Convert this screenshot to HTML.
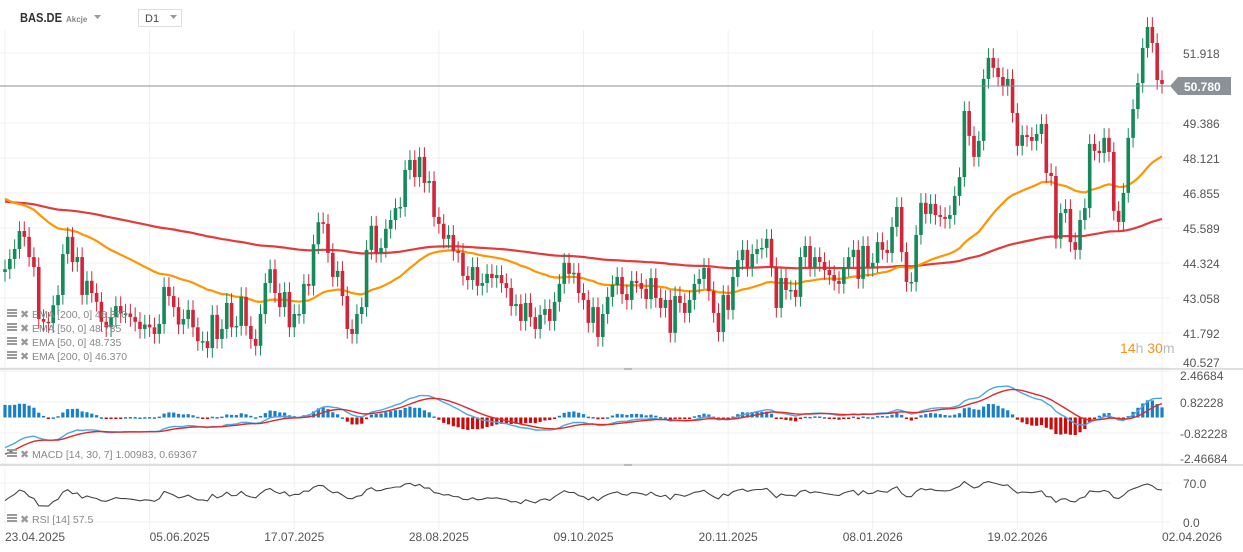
<!DOCTYPE html>
<html><head><meta charset="utf-8">
<style>
html,body{margin:0;padding:0;background:#fff;}
svg{display:block;font-family:"Liberation Sans",Arial,sans-serif;}
</style></head>
<body>
<svg id="chart" width="1243" height="552" viewBox="0 0 1243 552" xmlns="http://www.w3.org/2000/svg">
<rect x="0" y="0" width="1243" height="552" fill="#fff"/>
<g id="grid"></g>
<g id="ema"></g>
<g id="candles"></g>
<g id="macd"></g>
<g id="rsi"></g>
<g id="axes"></g>

<!-- header -->
<text x="20" y="22" font-size="13" font-weight="bold" fill="#333" textLength="42" lengthAdjust="spacingAndGlyphs">BAS.DE</text>
<text x="66" y="22" font-size="8" font-weight="bold" fill="#888">Akcje</text>
<path d="M94 15 L101 15 L97.5 19 Z" fill="#999"/>
<rect x="138.5" y="9.5" width="43" height="17" fill="#fff" stroke="#ddd"/>
<text x="145" y="22" font-size="11" fill="#444">D1</text>
<path d="M170 15 L177 15 L173.5 19 Z" fill="#999"/>

<!-- price marker -->
<line x1="0" y1="86" x2="1170" y2="86" stroke="#8a8f93" stroke-width="1"/>
<path d="M1170 86 L1178 77 L1231 77 L1231 95 L1178 95 Z" fill="#8a9297"/>
<text x="1184" y="91" font-size="12" font-weight="bold" fill="#fff">50.780</text>

<text x="1120" y="353" font-size="14"><tspan fill="#f7931a">14</tspan><tspan fill="#bbb">h </tspan><tspan fill="#f7931a">30</tspan><tspan fill="#bbb">m</tspan></text>

<!-- legends -->
<g id="legends" font-size="10.5" fill="#888"></g>
</svg>
<script>
// ---- data ----
const closes = [
44.1,44.47,44.83,45.48,45.27,44.54,44.18,42.3,42.2,42.15,42.8,43.17,44.65,45.27,44.36,44.54,43.17,43.68,43.24,42.92,42.2,42.0,42.37,42.77,42.5,42.5,42.37,42.2,41.94,42.1,42.0,41.76,42.12,43.46,43.13,42.73,42.1,42.3,42.63,42.0,41.5,41.5,41.25,42.45,41.58,41.94,42.88,42.0,42.05,43.1,42.05,41.58,41.33,42.48,43.6,44.1,43.24,42.73,43.28,42.0,42.48,42.48,
43.57,43.5,45.0,45.8,45.74,44.69,43.82,44.04,43.13,41.94,41.76,42.48,42.73,44.8,45.67,44.69,44.87,45.56,45.88,46.31,46.35,47.69,48.05,47.43,48.16,47.22,47.29,45.99,45.74,45.2,45.34,44.76,44.69,43.86,43.71,44.18,43.5,43.6,43.93,43.78,43.89,43.6,43.42,42.77,42.84,42.23,42.88,42.37,41.94,42.45,42.66,42.23,42.92,43.57,44.33,43.93,43.97,43.24,42.99,42.16,
42.73,41.65,42.48,43.1,43.53,43.82,43.2,42.99,43.68,43.6,43.39,43.02,43.78,43.06,42.7,42.99,41.8,43.13,42.88,42.52,42.99,43.57,43.75,44.15,43.31,42.52,41.83,43.17,42.63,43.82,44.43,44.8,44.18,44.65,44.83,44.87,45.2,44.18,42.7,43.78,43.35,43.35,43.1,44.54,44.94,44.18,44.54,44.36,44.07,43.89,43.68,43.57,44.18,44.54,44.8,43.75,44.94,44.18,44.33,45.08,
44.8,44.69,45.63,46.35,44.72,43.64,43.64,45.34,46.5,46.1,46.46,46.06,45.99,45.92,46.06,46.75,47.43,49.82,48.92,48.16,48.74,50.98,51.74,51.38,51.05,50.72,50.98,49.75,48.56,48.95,48.88,48.74,48.99,49.35,47.58,47.47,45.2,46.13,46.28,45.08,44.8,45.88,46.31,48.63,48.38,48.3,48.85,48.34,46.21,45.81,46.86,48.85,49.89,50.83,52.1,52.86,52.28,50.94,50.8
];
const firstOpen = [44.0];
const emaSeeds = [46.55, 46.65];        // EMA200, EMA50 values at first bar
const macdSeeds = [44.4, 46.0, -1.95]; // fast EMA, slow EMA, signal at first bar
const rsiSeeds = [0.1, 0.16];          // avg gain, avg loss
const priceTicks = [51.918, 49.386, 48.121, 46.855, 45.589, 44.324, 43.058, 41.792, 40.527];
const macdTicks = [2.46684, 0.82228, -0.82228, -2.46684];
const rsiTicks = [70.0, 0.0];
const dateLabels = ["23.04.2025","05.06.2025","17.07.2025","28.08.2025","09.10.2025","20.11.2025","08.01.2026","19.02.2026","02.04.2026"];
const dateIndex = [0,30,60,90,120,150,180,210,240];

// ---- scales ----
const N = closes.length;
const x0 = 5, x1 = 1162;
const step = (x1 - x0) / (N - 1);
const X = i => x0 + i * step;
const Yp = p => 158 + (48.121 - p) * 27.66;
const Ym = v => 417.5 - v * 18.8;
const Yh = v => 417.5 - v * 36;
const Yr = v => 522 - v * 39 / 70;
const NS = "http://www.w3.org/2000/svg";
function mk(tag, attrs, parent) {
  const e = document.createElementNS(NS, tag);
  for (const k in attrs) e.setAttribute(k, attrs[k]);
  parent.appendChild(e); return e;
}
const gGrid = document.getElementById('grid');
const gC = document.getElementById('candles');
const gE = document.getElementById('ema');
const gM = document.getElementById('macd');
const gR = document.getElementById('rsi');
const gA = document.getElementById('axes');
const gL = document.getElementById('legends');

// grid
priceTicks.forEach((t, k) => {
  const l = mk('line', {x1:0, x2:1170, y1:Yp(t), y2:Yp(t), stroke:'#f0f0f0'}, gGrid);
  
  
  let yy = Yp(t) + 5;
  if (k === priceTicks.length - 1) yy = Yp(t) - 1;
  const tx = mk('text', {x:1183, y:yy, 'font-size':12, fill:'#555'}, gA);
  
  
  tx.textContent = t.toFixed(3);
});
dateIndex.forEach((di, k) => {
  const x = X(di);
  const l = mk('line', {x1:x, x2:x, y1:30, y2:530, stroke:'#f0f0f0'}, gGrid);
  
  
  let anchor = 'middle';
  if (k === 0 || k === 1 || k === dateLabels.length - 1) anchor = 'start';
  const tx = mk('text', {x:x, y:541, 'font-size':12, fill:'#555', 'text-anchor':anchor}, gA);
  
  
  tx.textContent = dateLabels[k];
});
// pane separators
[369, 465].forEach(y => {
  const l = mk('line', {x1:0, x2:1243, y1:y, y2:y, stroke:'#d6d6d6', 'stroke-width':1.5}, gA);
  
  
  const h = mk('rect', {x:624, y:y-1, width:8, height:2, fill:'#bbb'}, gA);
  
  
});
macdTicks.forEach(t => {
  const l = mk('line', {x1:0, x2:1170, y1:Ym(t), y2:Ym(t), stroke:'#f0f0f0'}, gGrid);
  
  
  let yy = Ym(t) + 5;
  if (t > 2) yy = Ym(t) + 9;
  if (t < -2) yy = Ym(t) - 1;
  const tx = mk('text', {x:1180, y:yy, 'font-size':12, fill:'#555'}, gA);
  
  
  tx.textContent = t.toFixed(5);
});
rsiTicks.forEach(t => {
  const l = mk('line', {x1:0, x2:1170, y1:Yr(t), y2:Yr(t), stroke:'#f0f0f0'}, gGrid);
  
  
  const tx = mk('text', {x:1183, y:Yr(t)+5, 'font-size':12, fill:'#555'}, gA);
  
  
  tx.textContent = t.toFixed(1);
});

// candles
for (let i = 0; i < N; i++) {
  const o = i === 0 ? firstOpen[0] : closes[i-1];
  const c = closes[i];
  const up = c >= o;
  const col = up ? '#14895a' : '#d2253a';
  const hi = Math.max(o, c) + 0.35, lo = Math.min(o, c) - 0.35;
  const x = X(i);
  const w = mk('line', {x1:x, x2:x, y1:Yp(hi), y2:Yp(lo), stroke:col, 'stroke-width':1}, gC);
  
  
  const top = Yp(Math.max(o, c)), bot = Yp(Math.min(o, c));
  const b = mk('rect', {x:x-1.8, y:top, width:3.6, height:Math.max(1.5, bot-top), fill:col}, gC);
  
  
}

// EMAs
function emaLine(seed, period, color, name) {
  const k = 2 / (period + 1);
  let e = seed, pts = [];
  for (let i = 0; i < N; i++) {
    if (i > 0) e = closes[i] * k + e * (1 - k);
    pts.push(X(i).toFixed(1) + ',' + Yp(e).toFixed(1));
  }
  const p = mk('polyline', {points:pts.join(' '), fill:'none', stroke:color, 'stroke-width':2.2}, gE);
  
  
}
emaLine(emaSeeds[0], 200, '#e23b3b', 'ema-200-line');
emaLine(emaSeeds[1], 50, '#ff9500', 'ema-50-line');

// MACD
{
  const kf = 2/15, ks = 2/31, kg = 2/8;
  let f = macdSeeds[0], s = macdSeeds[1], sig = macdSeeds[2];
  const mp = [], sp = [];
  for (let i = 0; i < N; i++) {
    if (i > 0) { f = closes[i]*kf + f*(1-kf); s = closes[i]*ks + s*(1-ks); }
    const m = f - s;
    if (i > 0) sig = m*kg + sig*(1-kg);
    const h = m - sig;
    const x = X(i);
    const yh = Yh(h);
    const r = mk('rect', {x:x-1.6, y:Math.min(yh, 417.5), width:3.2, height:Math.max(1.5, Math.abs(yh-417.5)), fill: h >= 0 ? '#1a7fc9' : '#cc0a0a'}, gM);
    
    
    mp.push(x.toFixed(1)+','+Ym(m).toFixed(1));
    sp.push(x.toFixed(1)+','+Ym(sig).toFixed(1));
  }
  const l1 = mk('polyline', {points:mp.join(' '), fill:'none', stroke:'#4aa8e6', 'stroke-width':1.4}, gM);
  
  
  const l2 = mk('polyline', {points:sp.join(' '), fill:'none', stroke:'#e02a2a', 'stroke-width':1.4}, gM);
  
  
}

// RSI
{
  let ag = rsiSeeds[0], al = rsiSeeds[1];
  const pts = [];
  for (let i = 0; i < N; i++) {
    if (i > 0) {
      const d = closes[i] - closes[i-1];
      ag = (ag*13 + Math.max(d,0)) / 14;
      al = (al*13 + Math.max(-d,0)) / 14;
    }
    const rsi = 100 - 100 / (1 + ag / al);
    pts.push(X(i).toFixed(1)+','+Yr(rsi).toFixed(1));
  }
  const l = mk('polyline', {points:pts.join(' '), fill:'none', stroke:'#444', 'stroke-width':1.1}, gR);
  
  
}

// legends
function legend(y, txt, name) {
  const ic = mk('g', {}, gL);
  
  
  mk('rect', {x:7, y:y-9, width:10, height:2, fill:'#999'}, ic);
  mk('rect', {x:7, y:y-6, width:10, height:2, fill:'#999'}, ic);
  mk('rect', {x:7, y:y-3, width:10, height:2, fill:'#999'}, ic);
  const cl = mk('text', {x:20, y:y, 'font-size':11, fill:'#999'}, gL);
  
  
  cl.textContent = '✖';
  const t = mk('text', {x:32, y:y, 'font-size':10.5, fill:'#888'}, gL);
  
  
  t.textContent = txt;
}
legend(318, 'EMA [200, 0] 46.370', 'ema-200-legend');
legend(332, 'EMA [50, 0] 48.735', 'ema-50-legend');
legend(346, 'EMA [50, 0] 48.735', 'ema-50-legend-2');
legend(360, 'EMA [200, 0] 46.370', 'ema-200-legend-2');
legend(458, 'MACD [14, 30, 7] 1.00983, 0.69367', 'macd-legend');
legend(523, 'RSI [14] 57.5', 'rsi-legend');
</script>
</body></html>
